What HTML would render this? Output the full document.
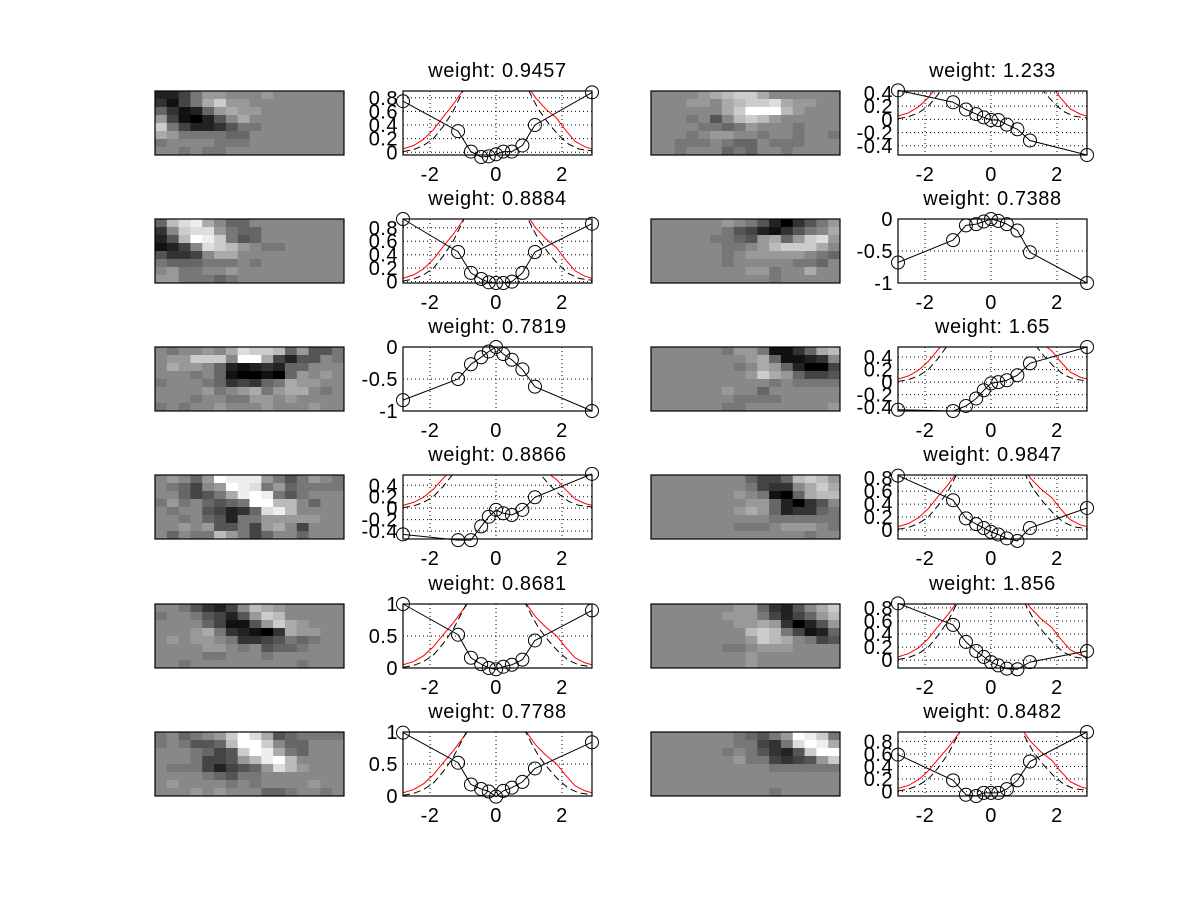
<!DOCTYPE html>
<html><head><meta charset="utf-8">
<style>
html,body{margin:0;padding:0;background:#fff;}
svg{display:block;font-family:"Liberation Sans",sans-serif;}
</style></head>
<body>
<svg id="fig" width="1200" height="900" viewBox="0 0 1200 900" xmlns="http://www.w3.org/2000/svg"></svg>
<script>
// ---- data ----
const weightLabels = ["0.9457","1.233","0.8884","0.7388","0.7819","1.65","0.8866","0.9847","0.8681","1.856","0.7788","0.8482"];
const xSamples = [-2.82,-1.15,-0.76,-0.45,-0.22,0,0.22,0.48,0.8,1.18,2.91];
const xTicks = [-2,0,2];
const xTickLabels = ["-2","0","2"];
const yLo = [-0.04,-0.54,-0.02,-1,-1,-0.46,-0.54,-0.14,0,-0.12,0,-0.07];
const yHi = [0.9,0.43,0.93,0,0,0.56,0.58,0.85,1,0.86,1,0.95];
const yTicks = [
 [0,0.2,0.4,0.6,0.8],[-0.4,-0.2,0,0.2,0.4],[0,0.2,0.4,0.6,0.8],[-1,-0.5,0],
 [-1,-0.5,0],[-0.4,-0.2,0,0.2,0.4],[-0.4,-0.2,0,0.2,0.4],[0,0.2,0.4,0.6,0.8],
 [0,0.5,1],[0,0.2,0.4,0.6,0.8],[0,0.5,1],[0,0.2,0.4,0.6,0.8]];
const circleY = [
 [0.75,0.31,0.01,-0.07,-0.06,-0.03,0.01,0.01,0.1,0.40,0.88],
 [0.44,0.26,0.15,0.08,0.03,-0.01,-0.01,-0.08,-0.15,-0.32,-0.54],
 [0.93,0.44,0.13,0.04,-0.01,-0.02,-0.02,0,0.13,0.44,0.86],
 [-0.68,-0.33,-0.1,-0.08,-0.04,0,-0.03,-0.08,-0.18,-0.52,-1.0],
 [-0.83,-0.5,-0.27,-0.16,-0.07,0,-0.11,-0.2,-0.35,-0.62,-1.0],
 [-0.44,-0.46,-0.38,-0.26,-0.13,-0.02,0,0.03,0.11,0.3,0.56],
 [-0.46,-0.56,-0.56,-0.32,-0.15,-0.03,-0.09,-0.12,-0.03,0.19,0.6],
 [0.84,0.46,0.18,0.09,0.03,-0.03,-0.07,-0.13,-0.17,0.03,0.34],
 [1.0,0.52,0.16,0.06,0.0,-0.02,0.02,0.05,0.13,0.43,0.9],
 [0.87,0.54,0.28,0.14,0.05,-0.03,-0.08,-0.13,-0.14,-0.03,0.14],
 [0.99,0.52,0.18,0.11,0.07,-0.01,0.08,0.13,0.22,0.43,0.84],
 [0.59,0.18,-0.05,-0.07,-0.02,-0.02,-0.02,0.04,0.18,0.48,0.95]];
const redLeftX = [-2.82,-2.5,-2.2,-1.9,-1.6,-1.3,-1.1,-0.9,-0.7];
const redLeftY = [0.05,0.1,0.19,0.33,0.52,0.7,0.84,0.98,1.15];
const redRightX = [0.75,0.95,1.2,1.5,1.84,2.1,2.4,2.7,2.91];
const redRightY = [1.15,0.98,0.8,0.64,0.5,0.33,0.16,0.08,0.05];
const dashLeftX = [-2.82,-2.5,-2.2,-1.9,-1.6,-1.3,-1.1,-0.9,-0.7];
const dashLeftY = [0.01,0.04,0.1,0.2,0.38,0.6,0.8,1.0,1.2];
const dashRightX = [0.7,0.9,1.1,1.3,1.6,1.9,2.2,2.5,2.91];
const dashRightY = [1.2,1.0,0.8,0.62,0.42,0.25,0.12,0.05,0.02];
const images = [
 ["2247998889888888","3147ac9988888888","631269a998888888","9410258a88888888","c742235778888888","a977776688888888","7888877788888888","8878778888888888"],
 ["88889abcca888888","888998abccda9988","888888acfffb9888","8887858bcb988888","8888776798887888","8887899887887887","8877787668777888","8878886768878888"],
 ["6bdea86688888888","38cdd97668888888","25bfec7568888888","1248dcb987788888","53348aa888888888","7666777878888888","8977889888888888","9977767888888888"],
 ["8888889875203579","888888754213578a","8888877659a69cd9","8888887789bccca8","8888887899999876","8888887888887768","8888888899788a88","8888888888788888"],
 ["878898adccb69557","899ccc8ffa425587","8a99862123266888","8887861001069898","78887634367a9988","8888978 9a79aa87","8887887799898888","7878898889888988"],
 ["8888887997113 6ab","888888889a611238","888888878a962004","888888889ca96445","8888888888787777","8888889886888888","8888888777788888","8888887788888889"],
 ["89869feee9757987","876489fed7967777","886457aefe757888","79786567ffbb8688","878854236deb8888","8878652779999988","8898955749a84888","86877b9746886888"],
 ["88888888644 6bcb9","8888888874338aca","8888888987106abb","8888888899620358","88888889a9623367","8888888888777777","8888888777899987","8888888888888788"],
 ["88753248ba988888","788754259cb88888","8888641159ca9888","8889a732103a9988","898998733457678 8","8888998785667888","8888778887888888","8878888888887888"],
 ["8888888996325 8ac","888888999742469b","888888899a930259","88888888bcb74126","888888889cba8745","8888887789998888","8888888898888888","8888888898888888"],
 ["78678 9cfda567777","787556bffc866888","8887645cfea76888","88874459befb8888","87774245 69db988","8888765778888888","8988887878888988","8889898886678878"],
 ["888888876579fec7","888888877437dfea","8888887875325cff","8888888977434 59c","8888888888777777","8888888888888888","8888888888888888","8888888888788888"]
];

// ---- layout ----
const NS = "http://www.w3.org/2000/svg";
const svg = document.getElementById("fig");
const rowTops = [91,219,347,475,604,732];
const plotX = [403,898], imgX = [155,651];
const PW = 189, PH = 64, IW = 189;
const xMin = -2.82, xMax = 2.91;
function mk(tag, attrs, parent){ const e=document.createElementNS(NS,tag); for(const k in attrs) e.setAttribute(k,attrs[k]); (parent||svg).appendChild(e); return e; }
function cleanRow(s){ return s.replace(/[^0-9a-f]/g,"").padEnd(16,"8").slice(0,16); }

const defs = mk("defs",{});
for(let p=0;p<12;p++){
  const r = Math.floor(p/2), c = p%2;
  const top = rowTops[r], x0 = plotX[c], ix = imgX[c];
  const ig = mk("g",{});
  
  
  const rows = images[p].map(cleanRow);
  const cw = IW/16, ch = PH/8;
  rows.forEach((row,ri)=>{
    for(let ci=0;ci<16;ci++){
      const v = parseInt(row[ci],16)*17;
      const cell = mk("rect",{x:(ix+ci*cw).toFixed(2),y:(top+ri*ch).toFixed(2),width:(cw+0.4).toFixed(2),height:(ch+0.4).toFixed(2),fill:`rgb(${v},${v},${v})`},ig);
      
      
    }
  });
  const ib = mk("rect",{x:ix,y:top,width:IW,height:PH,fill:"none",stroke:"#000","stroke-width":1.2},ig);
  
  

  const g = mk("g",{});
  
  
  const lo=yLo[p], hi=yHi[p];
  const sx = v => x0 + (v-xMin)/(xMax-xMin)*PW;
  const sy = v => top + PH - (v-lo)/(hi-lo)*PH;
  mk("rect",{x:x0,y:top,width:PW,height:PH,fill:"#fff"},g);
  const cp = mk("clipPath",{id:"clip"+p},defs);
  mk("rect",{x:x0,y:top,width:PW,height:PH},cp);
  xTicks.forEach((t,i)=>{
    const gl = mk("line",{x1:sx(t),x2:sx(t),y1:top,y2:top+PH,stroke:"#000","stroke-width":1,"stroke-dasharray":"1,3"},g);
    
    
    const tl = mk("text",{x:sx(t),y:top+PH+26,"text-anchor":"middle","font-size":20,"letter-spacing":0.5},g);
    tl.textContent = xTickLabels[i];
    
    
  });
  yTicks[p].forEach(t=>{
    const gl = mk("line",{x1:x0,x2:x0+PW,y1:sy(t),y2:sy(t),stroke:"#000","stroke-width":1,"stroke-dasharray":"1,3"},g);
    
    
    const tl = mk("text",{x:x0-5,y:sy(t)+7,"text-anchor":"end","font-size":20,"letter-spacing":0.5},g);
    tl.textContent = String(t);
    
    
  });
  const cg = mk("g",{"clip-path":`url(#clip${p})`},g);
  const pathOf = (xs,ys)=> xs.map((v,i)=>(i?"L":"M")+sx(v).toFixed(1)+","+sy(ys[i]).toFixed(1)).join("");
  [[redLeftX,redLeftY],[redRightX,redRightY]].forEach(([xs,ys])=>{
    const e = mk("path",{d:pathOf(xs,ys),fill:"none",stroke:"#f00","stroke-width":1},cg);
    
    
  });
  [[dashLeftX,dashLeftY],[dashRightX,dashRightY]].forEach(([xs,ys])=>{
    const e = mk("path",{d:pathOf(xs,ys),fill:"none",stroke:"#000","stroke-width":1,"stroke-dasharray":"7,4"},cg);
    
    
  });
  const ln = mk("path",{d:pathOf(xSamples,circleY[p]),fill:"none",stroke:"#000","stroke-width":1},g);
  
  
  xSamples.forEach((v,i)=>{
    const c = mk("circle",{cx:sx(v),cy:sy(circleY[p][i]),r:6.5,fill:"none",stroke:"#000","stroke-width":1},g);
    
    
  });
  const fr = mk("rect",{x:x0,y:top,width:PW,height:PH,fill:"none",stroke:"#000","stroke-width":1.2},g);
  
  
  const tt = mk("text",{x:x0+PW/2,y:top-14,"text-anchor":"middle","font-size":20,"letter-spacing":0.6},g);
  tt.textContent = "weight: "+weightLabels[p];
  
  
}
</script>
</body></html>
